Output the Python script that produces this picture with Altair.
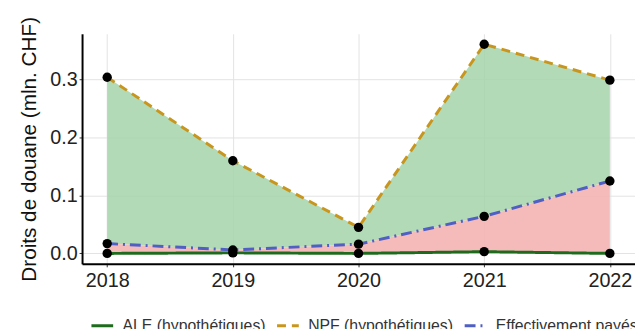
import altair as alt
import pandas as pd

years = [2018, 2019, 2020, 2021, 2022]
ale = [0.0, 0.001, 0.0, 0.003, 0.0]
npf = [0.304, 0.160, 0.045, 0.361, 0.299]
eff = [0.017, 0.006, 0.016, 0.064, 0.125]

series = ["ALE (hypothétiques)", "NPF (hypothétiques)", "Effectivement payés"]
colors = ["#1e6b1e", "#c8961e", "#4f5fc4"]
dashes = [[1, 0], [9, 6], [11, 5, 2, 5]]

wide = pd.DataFrame({"year": years, "ale": ale, "npf": npf, "eff": eff})
long = pd.concat([
    pd.DataFrame({"year": years, "value": ale, "series": series[0]}),
    pd.DataFrame({"year": years, "value": npf, "series": series[1]}),
    pd.DataFrame({"year": years, "value": eff, "series": series[2]}),
])

FONT = "Liberation Sans"
xs = alt.X("year:Q", scale=alt.Scale(domain=[2017.8, 2022.2], nice=False, zero=False),
           axis=alt.Axis(values=years, format="d", title=None, grid=True, gridColor="#e3e3e3",
                         domainColor="#000000", domainWidth=2, tickColor="#333333", tickSize=3,
                         labelFontSize=20, labelColor="#222222", labelPadding=4, labelFont=FONT))
ys_axis = alt.Axis(values=[0, 0.1, 0.2, 0.3], format=".1f", title="Droits de douane (mln. CHF)",
                   titleFontSize=21, titleFontWeight="normal", titleColor="#111111", titlePadding=10,
                   titleFont=FONT,
                   grid=True, gridColor="#e3e3e3", domainColor="#000000", domainWidth=2,
                   tickColor="#333333", tickSize=3, labelFontSize=20, labelColor="#222222",
                   labelPadding=2, labelFont=FONT)
yscale = alt.Scale(domain=[-0.018, 0.379], nice=False, zero=False)

green = alt.Chart(wide).mark_area(color="#a6d3a9", opacity=0.85).encode(
    x=xs, y=alt.Y("eff:Q", scale=yscale, axis=ys_axis), y2="npf:Q")
pink = alt.Chart(wide).mark_area(color="#f4b4b4", opacity=0.9).encode(
    x="year:Q", y="ale:Q", y2="eff:Q")

lines = alt.Chart(long).mark_line(strokeWidth=3).encode(
    x="year:Q", y="value:Q",
    color=alt.Color("series:N", scale=alt.Scale(domain=series, range=colors),
                    legend=alt.Legend(title=None, orient="none", legendX=8, legendY=283,
                                      direction="horizontal", symbolType="stroke",
                                      symbolStrokeWidth=3, symbolSize=484, labelFontSize=16,
                                      labelOffset=8, labelColor="#333333", columnPadding=5,
                                      labelFont=FONT)),
    strokeDash=alt.StrokeDash("series:N", scale=alt.Scale(domain=series, range=dashes), legend=None),
)
points = alt.Chart(long).mark_circle(size=90, color="#000000", opacity=1).encode(
    x="year:Q", y="value:Q")

chart = alt.layer(green, pink, lines, points).properties(
    width=560, height=233,
    autosize=alt.AutoSizeParams(type="none"),
    padding={"left": 75, "top": 24, "right": 0, "bottom": 75},
).configure_view(stroke=None)

chart.save("out.html", embed_options={"renderer": "svg", "actions": False})
